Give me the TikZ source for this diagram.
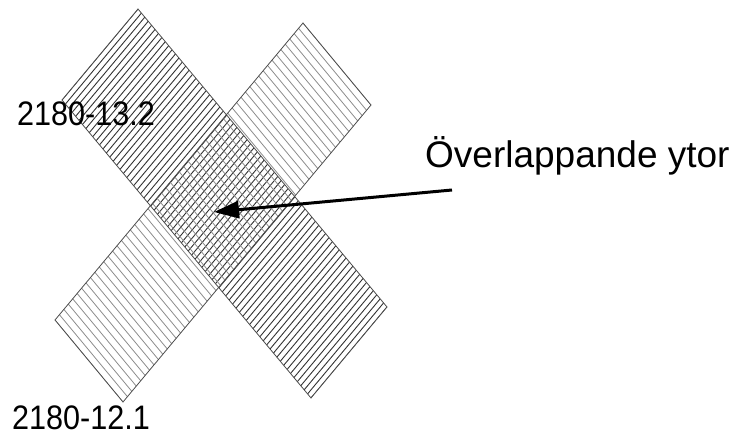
\documentclass[tikz,border=0pt]{standalone}
\usepackage{fontspec}
\setmainfont{Liberation Sans}
\usetikzlibrary{arrows.meta,calc}

\tikzset{
  outline/.style={draw=black!70, line width=0.8pt},
  hatchA/.style={black!80, line width=0.9pt},
  hatchB/.style={black!45, line width=0.8pt},
  tagtext/.style={anchor=base west, inner sep=0pt, xscale=0.9, font=\fontsize{34}{38}\selectfont},
  pointer/.style={-{Triangle[length=25pt,width=17pt]}, line width=3pt}
}

\begin{document}
\begin{tikzpicture}[x=1pt,y=-1pt]
  \useasboundingbox (0,0) rectangle (748,438);
  % band 2180-13.2
  \coordinate (aT) at (138,9);
  \coordinate (aR) at (387,307);
  \coordinate (aL) at (62,100);
  \coordinate (aB) at (311,398);
  % band 2180-12.1
  \coordinate (bT) at (303,23);
  \coordinate (bR) at (371,105);
  \coordinate (bL) at (55,320);
  \coordinate (bB) at (123,402);

  % hatching
  \begin{scope}
    \clip (aT) -- (aR) -- (aB) -- (aL) -- cycle;
    \foreach \t [evaluate=\t as \f using \t/73] in {0,...,73}
      \draw[hatchA] ($(aT)!\f!(aR)$) -- ($(aL)!\f!(aB)$);
  \end{scope}
  \begin{scope}
    \clip (bT) -- (bR) -- (bB) -- (bL) -- cycle;
    \foreach \t [evaluate=\t as \f using \t/56] in {0,...,56}
      \draw[hatchB] ($(bT)!\f!(bL)$) -- ($(bR)!\f!(bB)$);
  \end{scope}
  \draw[outline] (aT) -- (aR) -- (aB) -- (aL) -- cycle;
  \draw[outline] (bT) -- (bR) -- (bB) -- (bL) -- cycle;

  % labels
  \node[tagtext] (tagA) at (17,126) {2180-13.2};
  \node[tagtext] (tagB) at (12,430) {2180-12.1};
  \node[tagtext, xscale=1.111, font=\fontsize{37}{42}\selectfont] (overlaptext) at (425,168) {Överlappande ytor};

  % arrow
  \coordinate (arrowtail) at (452,190);
  \coordinate (overlapmid) at (214,212);
  \draw[pointer] (arrowtail) -- (overlapmid);
\end{tikzpicture}
\end{document}
